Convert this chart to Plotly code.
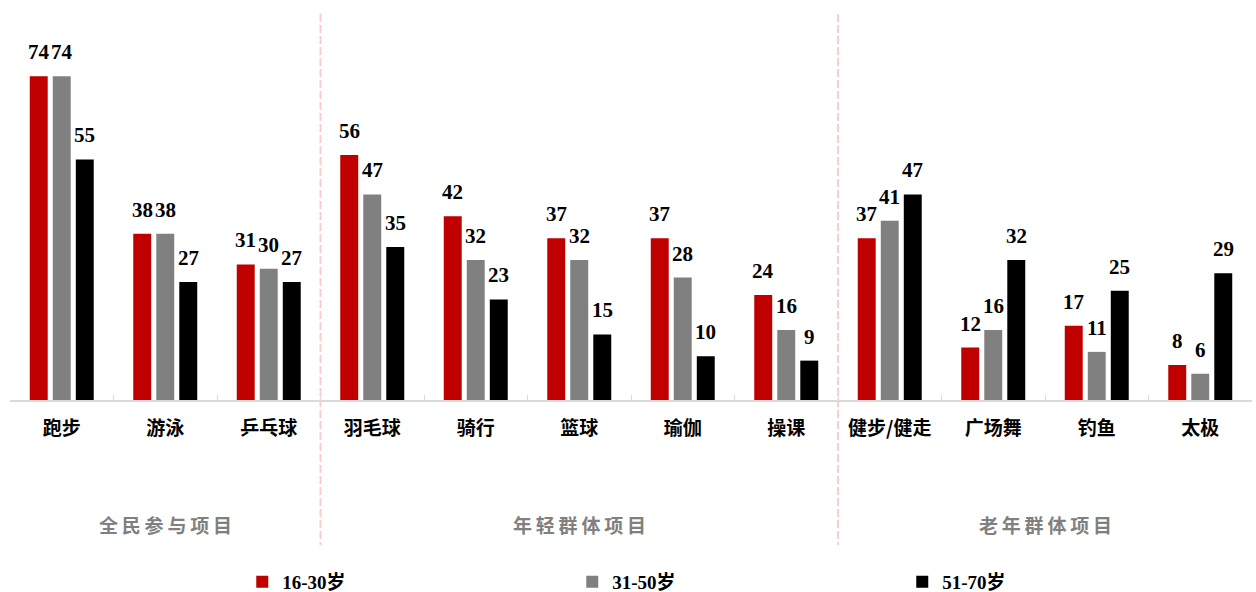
import plotly.graph_objects as go

# Sports participation by age group (%)
categories = ["跑步", "游泳", "乒乓球", "羽毛球", "骑行", "篮球", "瑜伽", "操课",
              "健步/健走", "广场舞", "钓鱼", "太极"]
age_16_30 = [74, 38, 31, 56, 42, 37, 37, 24, 37, 12, 17, 8]
age_31_50 = [74, 38, 30, 47, 32, 32, 28, 16, 41, 16, 11, 6]
age_51_70 = [55, 27, 27, 35, 23, 15, 10, 9, 47, 32, 25, 29]
series_names = ["16-30岁", "31-50岁", "51-70岁"]
series_colors = ["#C00000", "#808080", "#000000"]

group_names = ["全民参与项目", "年轻群体项目", "老年群体项目"]
group_centers = [1, 5, 9.5]
group_bounds = [2.5, 7.5]

BARGAP = 0.333
BARGROUPGAP = 0.22
LABEL_FONT = dict(family="Liberation Serif, Noto Sans CJK SC", size=21, color="#000000", weight="bold")

all_series = [age_16_30, age_31_50, age_51_70]

fig = go.Figure()
for name, vals, col in zip(series_names, all_series, series_colors):
    fig.add_trace(go.Bar(
        x=categories, y=vals, name=name,
        marker=dict(color=col, line=dict(width=0)),
        cliponaxis=False,
    ))

# value labels above each bar, positioned at the bar's slot within its group
annotations = []
n_series = len(all_series)
slot = (1 - BARGAP) / n_series
for i, vals in enumerate(all_series):
    offset = (i - (n_series - 1) / 2) * slot
    for j, v in enumerate(vals):
        annotations.append(dict(x=j + offset, y=v, xref="x", yref="y", text=str(v),
                                showarrow=False, xanchor="center", yanchor="bottom",
                                yshift=10, font=LABEL_FONT))

shapes = []
for b in group_bounds:
    shapes.append(dict(type="line", xref="x", yref="paper", x0=b, x1=b,
                       y0=1.103, y1=-0.414,
                       line=dict(color="#FFCCCC", width=2, dash="8px,3px")))

for g, c in zip(group_names, group_centers):
    annotations.append(dict(x=c, y=-0.357, xref="x", yref="paper", text="\u2009".join(g),
                            showarrow=False, xanchor="center", yanchor="middle",
                            font=dict(family="Noto Sans CJK SC", size=19, color="#808080", weight="bold")))

fig.update_layout(
    width=1256, height=592,
    margin=dict(l=10, r=4, t=50, b=192, autoexpand=False),
    paper_bgcolor="white", plot_bgcolor="white",
    barmode="group", bargap=BARGAP, bargroupgap=BARGROUPGAP,
    showlegend=True,
    legend=dict(orientation="h", x=0.187, y=10 / 592, xref="paper", yref="container",
                xanchor="left", yanchor="middle",
                font=dict(family="Liberation Serif, Noto Sans CJK SC", size=19, color="#000000", weight="bold"),
                entrywidth=285, entrywidthmode="pixels", itemwidth=30),
    shapes=shapes, annotations=annotations,
)
fig.update_xaxes(
    showline=True, linecolor="#D9D9D9", linewidth=1.5,
    ticks="inside", tickson="boundaries", ticklen=5, tickcolor="#D9D9D9",
    tickfont=dict(family="Noto Sans CJK SC", size=19, color="#000000", weight="bold"),
    ticklabelstandoff=10, showgrid=False, automargin=False,
)
fig.update_yaxes(range=[0, 80], visible=False, showgrid=False)

fig.write_html("out.html")
